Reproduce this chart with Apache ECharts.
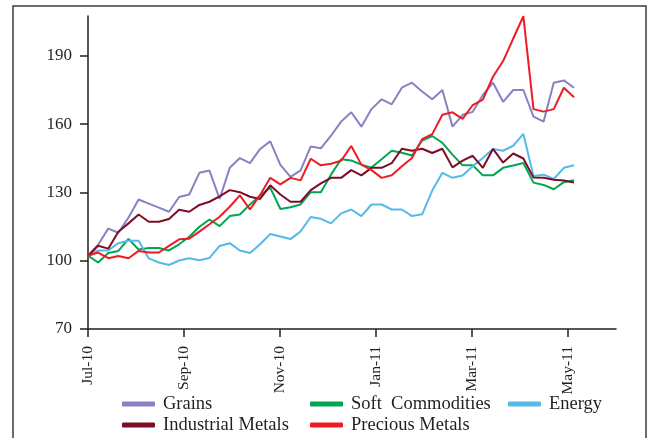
<!DOCTYPE html>
<html>
<head>
<meta charset="utf-8">
<script src="https://cdn.jsdelivr.net/npm/echarts@6/dist/echarts.min.js"></script>
<style>
html,body{margin:0;padding:0;background:#fff;}
#chart{width:648px;height:438px;}
</style>
</head>
<body>
<div id="chart"></div>
<script>
// weekly observations, index 0 = start of Jul-10
const monthLabels = ['Jul-10', 'Sep-10', 'Nov-10', 'Jan-11', 'Mar-11', 'May-11']
const monthTicks = [0, 9.48, 18.96, 28.44, 37.93, 47.41]   // in observation units
const yTicks = [70, 100, 130, 160, 190]

const grains = [102.1, 107.0, 114.1, 112.3, 119.0, 126.9, 125.1, 123.3, 121.5, 128.0,
	129.1, 138.6, 139.6, 127.1, 140.8, 145.1, 142.9, 149.1, 152.4, 142.1,
	136.8, 139.7, 150.2, 149.4, 154.9, 161.1, 165.2, 158.9, 166.6, 170.9,
	168.7, 176.0, 178.2, 174.3, 170.9, 175.0, 158.9, 164.1, 165.4, 172.8,
	178.2, 169.8, 175.0, 175.0, 163.3, 161.1, 178.2, 179.2, 176.0]
const softCommodities = [102.2, 99.2, 103.4, 104.3, 109.6, 104.9, 105.6, 105.6, 104.5, 107.2,
	110.5, 114.9, 118.1, 115.2, 119.6, 120.3, 124.7, 128.6, 132.1, 122.7,
	123.5, 124.7, 130.1, 130.1, 137.8, 144.6, 144.0, 142.2, 140.9, 144.6,
	148.3, 147.4, 146.2, 152.8, 154.8, 151.8, 146.6, 141.9, 141.9, 137.5,
	137.5, 140.8, 141.8, 142.9, 134.3, 133.3, 131.4, 134.5, 135.3]
const energy = [102.2, 104.5, 104.5, 107.7, 108.8, 108.8, 101.0, 99.2, 98.1, 100.1,
	101.1, 100.2, 101.2, 106.5, 107.7, 104.5, 103.4, 107.2, 111.7, 110.6,
	109.5, 112.9, 119.2, 118.4, 116.4, 120.8, 122.5, 119.6, 124.7, 124.7,
	122.5, 122.5, 119.6, 120.4, 130.8, 138.6, 136.4, 137.4, 141.5, 145.1,
	149.1, 148.3, 150.5, 155.7, 137.2, 137.8, 135.9, 140.8, 141.9]
const industrialMetals = [102.2, 106.6, 105.3, 112.7, 116.4, 120.3, 117.1, 117.1, 118.3, 122.4,
	121.5, 124.5, 125.9, 128.3, 131.0, 130.1, 128.1, 127.1, 133.1, 129.1,
	125.9, 125.9, 131.0, 134.0, 136.4, 136.4, 139.8, 137.5, 140.8, 140.8,
	142.9, 149.2, 148.3, 149.2, 147.3, 149.2, 141.0, 144.0, 146.1, 140.8,
	149.1, 143.1, 147.1, 144.9, 136.5, 136.4, 135.6, 135.2, 134.4]
const preciousMetals = [102.2, 103.6, 101.1, 102.1, 101.1, 104.3, 103.6, 103.6, 106.5, 109.4,
	109.7, 112.8, 116.0, 119.3, 123.7, 128.7, 122.5, 128.9, 136.4, 133.5,
	136.4, 135.3, 144.8, 141.9, 142.6, 143.9, 150.4, 142.2, 139.8, 136.4,
	137.5, 141.5, 145.1, 153.4, 155.6, 164.1, 165.2, 162.3, 168.4, 170.8,
	180.8, 187.7, 197.6, 207.4, 166.6, 165.5, 166.6, 176.0, 171.8]

const seriesDefs = [
	{ name: 'Grains', data: grains, color: '#8782c2' },
	{ name: 'Soft  Commodities', data: softCommodities, color: '#00a650' },
	{ name: 'Energy', data: energy, color: '#56b9e9' },
	{ name: 'Industrial Metals', data: industrialMetals, color: '#7d0d24' },
	{ name: 'Precious Metals', data: preciousMetals, color: '#ed1c24' },
]

const font = '"Liberation Serif", "DejaVu Serif", serif'
const ink = '#231f20'

let chartObj = echarts.init(document.getElementById('chart'))

let seriesData = seriesDefs.map(s => ({
	name: s.name,
	type: 'line',
	data: s.data.map((v, i) => [i, v]),
	symbol: 'none',
	color: s.color,
	lineStyle: { width: 2, color: s.color },
	emphasis: { disabled: true },
}))

function legendAt(left, names) {
	return {
		left: left,
		top: 393.5,
		orient: 'vertical',
		padding: 0,
		itemGap: 0,
		itemWidth: 33,
		itemHeight: 5,
		icon: 'roundRect',
		selectedMode: false,
		data: names,
		textStyle: {
			fontFamily: font,
			fontSize: 18.5,
			color: ink,
			lineHeight: 21,
			padding: [0, 0, 0, 3],
		},
	}
}

let option = {
	animation: false,
	backgroundColor: '#fff',
	grid: { left: 88, right: 32, top: 16, bottom: 109, containLabel: false },
	legend: [
		legendAt(122, ['Grains', 'Industrial Metals']),
		legendAt(310, ['Soft  Commodities', 'Precious Metals']),
		legendAt(508, ['Energy']),
	],
	xAxis: {
		type: 'value',
		min: 0,
		max: 52.15,
		splitLine: { show: false },
		axisLine: { lineStyle: { color: ink, width: 1.5 } },
		axisTick: { show: true, length: 8, customValues: monthTicks, lineStyle: { color: ink, width: 1.5 } },
		axisLabel: {
			customValues: monthTicks,
			rotate: 90,
			margin: 17,
			fontFamily: font,
			fontSize: 15.5,
			color: ink,
			formatter: function (val) {
				let k = monthTicks.indexOf(val)
				return k >= 0 ? monthLabels[k] : ''
			},
		},
	},
	yAxis: {
		type: 'value',
		min: 70,
		max: 207.5,
		splitLine: { show: false },
		axisLine: { show: true, lineStyle: { color: ink, width: 1.5 } },
		axisTick: { show: true, length: 8, customValues: yTicks, lineStyle: { color: ink, width: 1.5 } },
		axisLabel: {
			customValues: yTicks,
			margin: 16,
			fontFamily: font,
			fontSize: 17,
			color: ink,
		},
	},
	graphic: [{
		type: 'rect',
		shape: { x: 13, y: 6, width: 633, height: 460 },
		style: { fill: 'none', stroke: '#3d3d3d', lineWidth: 1.5 },
		silent: true,
	}],
	series: seriesData,
}
option && chartObj.setOption(option)
</script>
</body>
</html>
